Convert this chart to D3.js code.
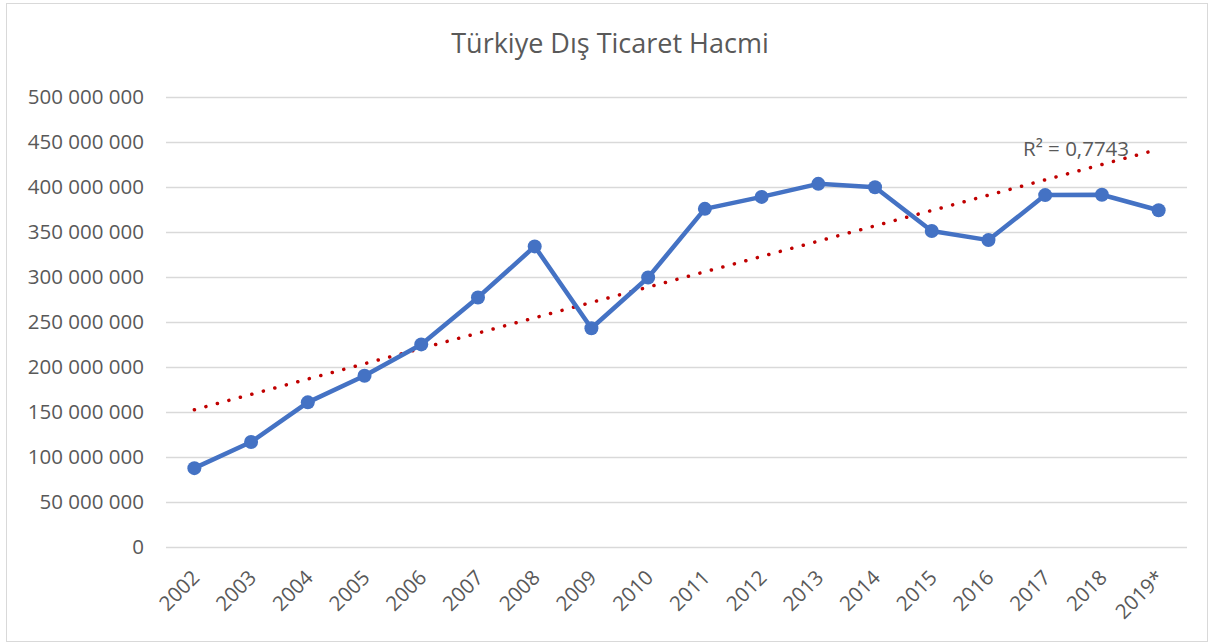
<!DOCTYPE html>
<html>
<head>
<meta charset="utf-8">
<script src="https://cdn.jsdelivr.net/npm/d3@7"></script>
<style>
  body { margin: 0; background: #fff; }
  text { font-family: "Open Sans", "Liberation Sans", sans-serif; fill: #595959; }
</style>
</head>
<body>
<div id="chart"></div>
<script>
// data (thousand USD)
var years = ["2002", "2003", "2004", "2005", "2006", "2007", "2008", "2009", "2010",
             "2011", "2012", "2013", "2014", "2015", "2016", "2017", "2018", "2019*"];
var volume = [87600000, 116600000, 160700000, 190300000, 225100000, 277300000, 334000000,
              243100000, 299400000, 375700000, 389000000, 403500000, 399800000, 351100000,
              341000000, 391000000, 391400000, 374200000];
var yTicks = [0, 50000000, 100000000, 150000000, 200000000, 250000000, 300000000,
              350000000, 400000000, 450000000, 500000000];
var r2Label = "R² = 0,7743";

var width = 1213, height = 644;
var plotL = 166, plotR = 1187, plotT = 97, plotB = 547;

var svg = d3.select("#chart").append("svg")
    .attr("width", width)
    .attr("height", height);

svg.append("rect")
    .attr("x", 6.5).attr("y", 3.5)
    .attr("width", 1201).attr("height", 638)
    .attr("fill", "#fff")
    .attr("stroke", "#d9d9d9");

var x = d3.scalePoint().domain(years).range([plotL, plotR]).padding(0.5);
var y = d3.scaleLinear().domain([0, 500000000]).range([plotB, plotT]);

var fmt = function(d) { return d3.format(",")(d).replace(/,/g, " "); };

// y axis with gridlines
var yAxis = svg.append("g")
    .attr("transform", "translate(" + plotL + ",0)")
    .call(d3.axisLeft(y).tickValues(yTicks).tickFormat(fmt).tickSize(-(plotR - plotL)).tickPadding(22));
yAxis.select(".domain").remove();
yAxis.selectAll("line").attr("stroke", "#d9d9d9").attr("stroke-width", 1.3);
yAxis.selectAll("text").style("font-size", "20.5px").attr("fill", "#595959");

// x axis
var xAxis = svg.append("g")
    .attr("transform", "translate(0," + plotB + ")")
    .call(d3.axisBottom(x).tickSize(0));
xAxis.select(".domain").remove();
xAxis.selectAll("text")
    .style("font-size", "20.5px")
    .attr("fill", "#595959")
    .attr("text-anchor", "end")
    .attr("y", 0)
    .attr("dy", null)
    .attr("transform", "translate(6,32) rotate(-45)");

// linear trendline (least squares over category index)
var n = volume.length;
var mx = d3.mean(volume, function(d, i) { return i; });
var my = d3.mean(volume);
var sxy = d3.sum(volume, function(d, i) { return (i - mx) * (d - my); });
var sxx = d3.sum(volume, function(d, i) { return (i - mx) * (i - mx); });
var slope = sxy / sxx, icpt = my - slope * mx;

svg.append("line")
    .attr("x1", x(years[0])).attr("y1", y(icpt))
    .attr("x2", x(years[n - 1])).attr("y2", y(icpt + slope * (n - 1)))
    .attr("stroke", "#c00000")
    .attr("stroke-width", 3.5)
    .attr("stroke-linecap", "round")
    .attr("stroke-dasharray", "0.1 11.8");

// main series
var line = d3.line()
    .x(function(d, i) { return x(years[i]); })
    .y(function(d) { return y(d); });

svg.append("path")
    .datum(volume)
    .attr("d", line)
    .attr("fill", "none")
    .attr("stroke", "#4472c4")
    .attr("stroke-width", 4.5)
    .attr("stroke-linejoin", "round");

svg.selectAll(".pt")
    .data(volume)
    .enter().append("circle")
    .attr("class", "pt")
    .attr("cx", function(d, i) { return x(years[i]); })
    .attr("cy", function(d) { return y(d); })
    .attr("r", 7)
    .attr("fill", "#4472c4");

// R² label
svg.append("text")
    .attr("x", 1023).attr("y", 156)
    .style("font-size", "20.5px")
    .text(r2Label);

// title
svg.append("text")
    .attr("x", 610).attr("y", 53)
    .attr("text-anchor", "middle")
    .style("font-size", "27px")
    .text("Türkiye Dış Ticaret Hacmi");
</script>
</body>
</html>
